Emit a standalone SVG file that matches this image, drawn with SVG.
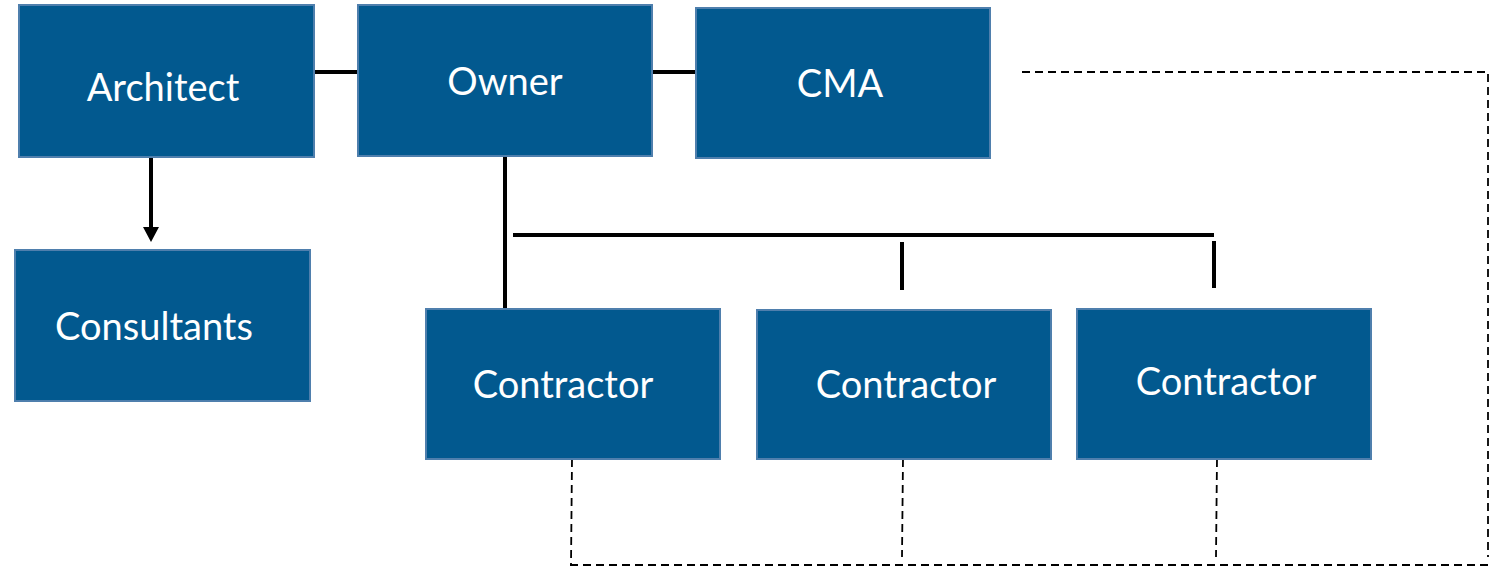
<svg xmlns="http://www.w3.org/2000/svg" width="1492" height="567" viewBox="0 0 1492 567">
<style>
.box{fill:#02598F;stroke:#4F7FAD;stroke-width:2}
.lbl{fill:#ffffff;font-family:Lato,"Open Sans",sans-serif;font-size:38px;text-anchor:middle}
.solid{stroke:#000;stroke-width:4;fill:none}
.dash{stroke:#000;stroke-width:1.8;fill:none;stroke-dasharray:8,5}
.head{fill:#000}
</style>
<g id="connectors">
<line class="solid" x1="314" y1="72" x2="358" y2="72"/>
<line class="solid" x1="652" y1="72" x2="696" y2="72"/>
<line class="solid" x1="151" y1="157" x2="151" y2="228"/>
<path class="head" d="M143,227 L159,227 L151,242 Z"/>
<line class="solid" x1="505" y1="156" x2="505" y2="309"/>
<line class="solid" x1="513" y1="235" x2="1214" y2="235"/>
<line class="solid" x1="902" y1="242" x2="902" y2="290"/>
<line class="solid" x1="1214" y1="241" x2="1214" y2="288"/>
<polyline class="dash" points="1022,72 1488,72 1488,557"/>
<line class="dash" x1="570" y1="565" x2="1490" y2="565"/>
<line class="dash" x1="572" y1="459" x2="571" y2="565"/>
<line class="dash" x1="903" y1="459" x2="902" y2="557"/>
<line class="dash" x1="1217" y1="459" x2="1216" y2="557"/>
</g>
<g id="architect"><rect class="box" x="19" y="5" width="295" height="152"/><text class="lbl" x="163" y="101">Architect</text></g>
<g id="owner"><rect class="box" x="358" y="5" width="294" height="151"/><text class="lbl" x="505" y="95">Owner</text></g>
<g id="cma"><rect class="box" x="696" y="8" width="294" height="150"/><text class="lbl" x="840" y="97">CMA</text></g>
<g id="consultants"><rect class="box" x="15" y="250" width="295" height="151"/><text class="lbl" x="154" y="340">Consultants</text></g>
<g id="contractor1"><rect class="box" x="426" y="309" width="294" height="150"/><text class="lbl" x="563" y="398">Contractor</text></g>
<g id="contractor2"><rect class="box" x="757" y="310" width="294" height="149"/><text class="lbl" x="906" y="398">Contractor</text></g>
<g id="contractor3"><rect class="box" x="1077" y="309" width="294" height="150"/><text class="lbl" x="1226" y="395">Contractor</text></g>
</svg>
